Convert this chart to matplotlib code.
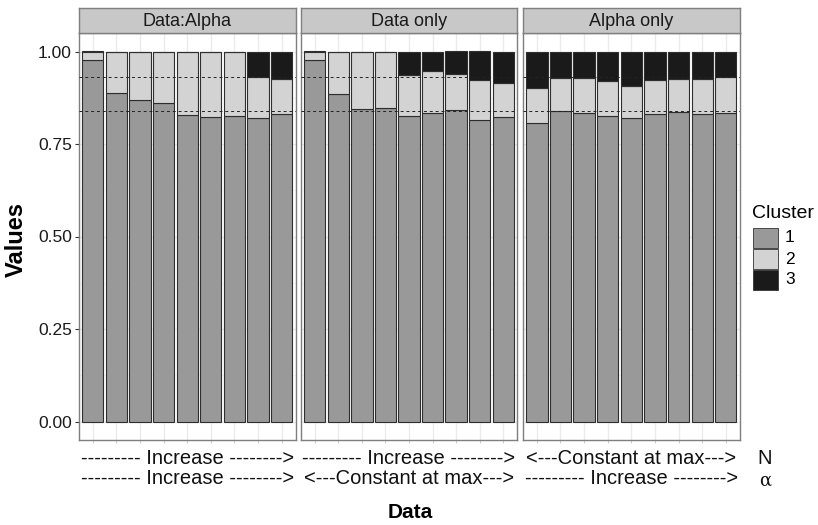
import numpy as np
import matplotlib.pyplot as plt
from matplotlib.patches import Rectangle

plt.rcParams['font.family'] = ['Liberation Sans', 'DejaVu Sans']

# proportions des clusters par barre
panels = ['Data:Alpha', 'Data only', 'Alpha only']
c1 = [
    [0.976, 0.887, 0.870, 0.862, 0.828, 0.822, 0.826, 0.820, 0.830],
    [0.976, 0.885, 0.844, 0.846, 0.826, 0.834, 0.841, 0.814, 0.822],
    [0.806, 0.838, 0.834, 0.825, 0.820, 0.831, 0.837, 0.830, 0.833],
]
c2 = [
    [0.024, 0.113, 0.130, 0.138, 0.172, 0.178, 0.174, 0.110, 0.096],
    [0.024, 0.115, 0.156, 0.154, 0.111, 0.113, 0.097, 0.110, 0.094],
    [0.095, 0.090, 0.094, 0.095, 0.088, 0.092, 0.089, 0.096, 0.097],
]
c3 = [
    [0.000, 0.000, 0.000, 0.000, 0.000, 0.000, 0.000, 0.070, 0.074],
    [0.000, 0.000, 0.000, 0.000, 0.063, 0.053, 0.062, 0.076, 0.084],
    [0.099, 0.072, 0.072, 0.080, 0.092, 0.077, 0.074, 0.074, 0.070],
]
hlines = [0.93, 0.84]
row_N = ['--------- Increase -------->', '--------- Increase -------->', '<---Constant at max--->']
row_a = ['--------- Increase -------->', '<---Constant at max--->', '--------- Increase -------->']
clusters = ['1', '2', '3']
colors = ['#999999', '#d3d3d3', '#1a1a1a']

W, H = 818, 525
fig = plt.figure(figsize=(W / 100, H / 100), dpi=100)

def fx(x):
    return x / W

def fy(y):
    return 1 - y / H

px = [(78.7, 295.7), (300.7, 517.3), (522.7, 740.0)]
top, bottom = 33, 440
strip_top = 8
border = '#7f7f7f'

for k, (x0, x1) in enumerate(px):
    ax = fig.add_axes([fx(x0), fy(bottom), fx(x1 - x0), (bottom - top) / H])
    x = np.arange(1, 10)
    ax.set_xlim(0.4, 9.6)
    ax.set_ylim(-0.05, 1.05)
    for v in np.arange(0, 1.01, 0.25):
        ax.axhline(v, color='#ebebeb', lw=1.0, zorder=0)
    for v in np.arange(0.125, 1.0, 0.25):
        ax.axhline(v, color='#f4f4f4', lw=0.6, zorder=0)
    for xi in x:
        ax.axvline(xi, color='#ebebeb', lw=1.0, zorder=0)
    b = np.zeros(9)
    for vals, col in zip([c1[k], c2[k], c3[k]], colors):
        ax.bar(x, vals, width=0.9, bottom=b, color=col, edgecolor='#2e2e2e',
               linewidth=0.8, zorder=2)
        b = b + np.array(vals)
    for h in hlines:
        ax.axhline(h, color='#222222', lw=0.7, ls=(0, (3, 3)), zorder=3)
    for s in ax.spines.values():
        s.set_color(border)
        s.set_linewidth(1.0)
    ax.set_xticks(x)
    ax.set_xticklabels([])
    ax.tick_params(axis='x', length=2, color='#cccccc')
    if k == 0:
        ax.set_yticks([0, 0.25, 0.5, 0.75, 1.0])
        ax.set_yticklabels(['0.00', '0.25', '0.50', '0.75', '1.00'], fontsize=12.5, color='#1a1a1a')
        ax.tick_params(axis='y', length=3, color='#333333', pad=2)
    else:
        ax.set_yticks([])
    # bandeau
    sax = fig.add_axes([fx(x0), fy(top), fx(x1 - x0), (top - strip_top) / H])
    sax.set_xticks([])
    sax.set_yticks([])
    sax.set_facecolor('#c8c8c8')
    for s in sax.spines.values():
        s.set_color(border)
        s.set_linewidth(1.0)
    sax.text(0.5, 0.45, panels[k], ha='center', va='center', fontsize=13,
             color='#1a1a1a', transform=sax.transAxes)
    cx = fx((x0 + x1) / 2)
    fig.text(cx, fy(458), row_N[k], ha='center', va='center', fontsize=14.5, color='#111111')
    fig.text(cx, fy(479), row_a[k], ha='center', va='center', fontsize=14.5, color='#111111')

fig.text(fx(765), fy(458), 'N', ha='center', va='center', fontsize=14.5, color='#111111')
fig.text(fx(765), fy(481), 'α', ha='center', va='center', fontsize=13, color='#111111',
         family=['DejaVu Serif'])
fig.text(fx(410), fy(512), 'Data', ha='center', va='center', fontsize=15, fontweight='bold')
fig.text(fx(16), fy(240), 'Values', ha='center', va='center', fontsize=17,
         fontweight='bold', rotation=90)

# légende
fig.text(fx(752), fy(213), 'Cluster', ha='left', va='center', fontsize=14)
for i, (lab, col) in enumerate(zip(clusters, colors)):
    y0 = 228 + i * 21
    fig.patches.append(Rectangle((fx(752.5), fy(y0 + 20)), fx(25), 20 / H,
                                 transform=fig.transFigure, facecolor=col,
                                 edgecolor='#333333', linewidth=0.6))
    fig.text(fx(785), fy(y0 + 10), lab, ha='left', va='center', fontsize=12.5)

fig.savefig('out.png', dpi=100)
